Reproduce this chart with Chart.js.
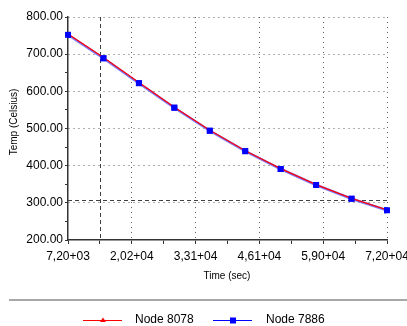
<!DOCTYPE html>
<html>
<head>
<meta charset="utf-8">
<script src="https://cdn.jsdelivr.net/npm/chart.js@4/dist/chart.umd.min.js"></script>
<style>
  html, body { margin: 0; padding: 0; background: #ffffff; }
  #wrap { width: 407px; height: 326px; position: relative; }
</style>
</head>
<body>
<div id="wrap"><canvas id="c" width="407" height="326"></canvas></div>
<script>
// ---- data ----
const timeSec = [7200, 14400, 21600, 28800, 36000, 43200, 50400, 57600, 64800, 72000];
const node8078 = [754, 691, 624, 557, 495, 440, 392, 349, 312, 281];
const node7886 = [752, 689, 622, 556, 494, 439, 391, 348, 311, 280];
const xTickValues = [7200, 13680, 20160, 26640, 33120, 39600, 46080, 52560, 59040, 65520, 72000];
const xTickLabels = ["7,20+03", "", "2,02+04", "", "3,31+04", "", "4,61+04", "", "5,90+04", "", "7,20+04"];
const yTickValues = [200, 250, 300, 350, 400, 450, 500, 550, 600, 650, 700, 750, 800];
const yTickLabels = ["200.00", "", "300.00", "", "400.00", "", "500.00", "", "600.00", "", "700.00", "", "800.00"];
const seriesNames = ["Node 8078", "Node 7886"];
const cursorX = 13680;
const cursorY = 307;

const FONT = "'Liberation Sans', Arial, sans-serif";

const extras = {
  id: 'extras',
  beforeDatasetsDraw(chart) {
    const {ctx, chartArea: a, scales: {x, y}} = chart;
    ctx.save();
    ctx.strokeStyle = '#404040';
    ctx.lineWidth = 1;
    ctx.setLineDash([4, 3]);
    const px = Math.round(x.getPixelForValue(cursorX)) + 0.5;
    const py = Math.round(y.getPixelForValue(cursorY)) + 0.5;
    ctx.beginPath();
    ctx.moveTo(px, a.top); ctx.lineTo(px, a.bottom);
    ctx.moveTo(a.left, py); ctx.lineTo(a.right, py);
    ctx.stroke();
    ctx.restore();
  },
  afterDatasetsDraw(chart) {
    // keep the blue square markers above the red line
    const meta = chart.getDatasetMeta(1);
    const area = chart.chartArea;
    meta.data.forEach(el => el.draw(chart.ctx, area));
  },
  afterDraw(chart) {
    const {ctx} = chart;
    ctx.save();
    // axis titles
    ctx.fillStyle = '#000';
    ctx.font = "10px " + FONT;
    ctx.textAlign = 'center';
    ctx.textBaseline = 'middle';
    ctx.fillText('Time (sec)', 227, 276);
    ctx.save();
    ctx.translate(14, 122);
    ctx.rotate(-Math.PI / 2);
    ctx.fillText('Temp (Celsius)', 0, 0);
    ctx.restore();
    // separator
    ctx.strokeStyle = '#a8a8a8';
    ctx.lineWidth = 2;
    ctx.beginPath();
    ctx.moveTo(9, 300); ctx.lineTo(407, 300);
    ctx.stroke();
    // legend
    const ly = 320.5;
    ctx.lineWidth = 1;
    ctx.strokeStyle = '#ff0000';
    ctx.beginPath(); ctx.moveTo(83, ly); ctx.lineTo(122, ly); ctx.stroke();
    ctx.fillStyle = '#ff0000';
    ctx.beginPath(); ctx.moveTo(103, ly - 3); ctx.lineTo(106, ly + 1.5); ctx.lineTo(100, ly + 1.5); ctx.closePath(); ctx.fill();
    ctx.strokeStyle = '#0000ff';
    ctx.beginPath(); ctx.moveTo(213, ly); ctx.lineTo(252, ly); ctx.stroke();
    ctx.fillStyle = '#0000ff';
    ctx.fillRect(230, ly - 3, 6, 6);
    ctx.fillStyle = '#000';
    ctx.font = "12px " + FONT;
    ctx.textAlign = 'left';
    ctx.textBaseline = 'middle';
    ctx.fillText(seriesNames[0], 135, 320);
    ctx.fillText(seriesNames[1], 266, 320);
    ctx.restore();
  }
};

new Chart(document.getElementById('c'), {
  type: 'line',
  data: {
    datasets: [
      {
        label: seriesNames[0],
        data: timeSec.map((t, i) => ({x: t, y: node8078[i]})),
        borderColor: '#ff0000',
        backgroundColor: '#ff0000',
        borderWidth: 1.2,
        pointStyle: 'triangle',
        pointRadius: 0,
        pointBorderWidth: 0,
        tension: 0,
        order: 1
      },
      {
        label: seriesNames[1],
        data: timeSec.map((t, i) => ({x: t, y: node7886[i]})),
        borderColor: '#7a7aff',
        backgroundColor: '#0000ff',
        borderWidth: 2.5,
        pointStyle: 'rect',
        pointRadius: 4.2,
        pointBorderWidth: 0,
        tension: 0,
        order: 2
      }
    ]
  },
  options: {
    responsive: false,
    animation: false,
    devicePixelRatio: 1,
    layout: { padding: { left: 0, top: 17, right: 20, bottom: 0 } },
    plugins: { legend: { display: false }, tooltip: { enabled: false } },
    scales: {
      x: {
        type: 'linear',
        min: 7200,
        max: 72000,
        afterBuildTicks: (s) => { s.ticks = xTickValues.map(v => ({value: v})); },
        afterFit: (s) => { s.height = 86; s.paddingLeft = 0; s.paddingRight = 0; },
        ticks: {
          autoSkip: false,
          maxRotation: 0,
          minRotation: 0,
          padding: 5,
          color: '#000',
          font: { size: 12, family: FONT },
          callback: (v, i) => xTickLabels[i]
        },
        grid: {
          color: (c) => (c.index % 2 === 0 && c.index > 0) ? '#606060' : 'rgba(0,0,0,0)',
          tickColor: '#333',
          tickLength: 4,
          lineWidth: 1
        },
        border: { color: '#333', width: 1.5, dash: [1, 4] }
      },
      y: {
        type: 'linear',
        min: 200,
        max: 800,
        afterBuildTicks: (s) => { s.ticks = yTickValues.map(v => ({value: v})); },
        afterFit: (s) => { s.width = 68; s.paddingTop = 0; s.paddingBottom = 0; },
        ticks: {
          autoSkip: false,
          padding: 2,
          color: '#000',
          font: { size: 12, family: FONT },
          callback: (v, i) => yTickLabels[i]
        },
        grid: {
          color: (c) => (c.index % 2 === 0 && c.index > 0) ? '#606060' : 'rgba(0,0,0,0)',
          tickColor: '#333',
          tickLength: 3,
          lineWidth: 1
        },
        border: { color: '#333', width: 1.5, dash: [1, 4] }
      }
    }
  },
  plugins: [extras]
});
</script>
</body>
</html>
